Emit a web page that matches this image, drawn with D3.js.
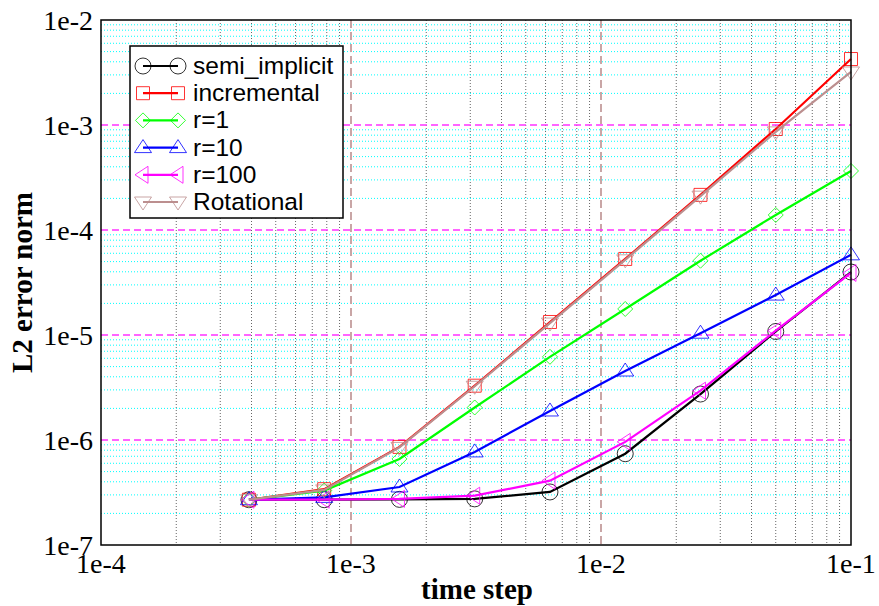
<!DOCTYPE html>
<html>
<head>
<meta charset="utf-8">
<script src="https://cdn.jsdelivr.net/npm/d3@7"></script>
<style>
  html, body { margin: 0; padding: 0; background: #fff; }
  svg { display: block; }
</style>
</head>
<body>
<svg id="chart" width="879" height="606"></svg>
<script>
// ---- data ----
const timeSteps = [0.000390625, 0.00078125, 0.0015625, 0.003125, 0.00625, 0.0125, 0.025, 0.05, 0.1];
const semiImplicit = [2.7e-7, 2.7e-7, 2.72e-7, 2.75e-7, 3.2e-7, 7.4e-7, 2.74e-6, 1.08e-5, 3.98e-5];
const incremental  = [2.7e-7, 3.4e-7, 8.6e-7, 3.29e-6, 1.33e-5, 5.3e-5, 2.16e-4, 9.16e-4, 4.25e-3];
const r1           = [2.7e-7, 3.3e-7, 6.6e-7, 2.04e-6, 6.2e-6, 1.77e-5, 5.1e-5, 1.39e-4, 3.65e-4];
const r10          = [2.7e-7, 2.84e-7, 3.57e-7, 7.7e-7, 1.89e-6, 4.54e-6, 1.04e-5, 2.4e-5, 5.8e-5];
const r100         = [2.7e-7, 2.7e-7, 2.75e-7, 2.95e-7, 4.1e-7, 9.6e-7, 2.95e-6, 1.1e-5, 3.9e-5];
const rotational   = [2.7e-7, 3.35e-7, 8.5e-7, 3.25e-6, 1.3e-5, 5.2e-5, 2.1e-4, 8.6e-4, 3.2e-3];
const seriesNames  = ["semi_implicit", "incremental", "r=1", "r=10", "r=100", "Rotational"];
const xTickLabels  = ["1e-4", "1e-3", "1e-2", "1e-1"];
const yTickLabels  = ["1e-7", "1e-6", "1e-5", "1e-4", "1e-3", "1e-2"];
const xLabel = "time step";
const yLabel = "L2 error norm";

const seriesData = [semiImplicit, incremental, r1, r10, r100, rotational];
const colors = ["#000000", "#ff0000", "#00ff00", "#0000ff", "#ff00ff", "#bc8f8f"];
const markers = ["circle", "square", "diamond", "triUp", "triLeft", "triDown"];

// ---- layout ----
const svg = d3.select("#chart");
const L = 101, R = 851, T = 20, B = 545;
const x = d3.scaleLog().domain([1e-4, 1e-1]).range([L, R]);
const y = d3.scaleLog().domain([1e-7, 1e-2]).range([B, T]);

const g = svg.append("g");

// minor grid
const minorX = [], minorY = [];
[1e-4, 1e-3, 1e-2].forEach(d => { for (let k = 2; k <= 9; k++) minorX.push(d * k); });
[1e-7, 1e-6, 1e-5, 1e-4, 1e-3].forEach(d => { for (let k = 2; k <= 9; k++) minorY.push(d * k); });

g.selectAll(".mx").data(minorX).join("line")
  .attr("x1", d => x(d)).attr("x2", d => x(d)).attr("y1", T).attr("y2", B)
  .attr("stroke", "#666").attr("stroke-width", 1).attr("stroke-dasharray", "1,2");
g.selectAll(".my").data(minorY).join("line")
  .attr("x1", L).attr("x2", R).attr("y1", d => y(d)).attr("y2", d => y(d))
  .attr("stroke", "#00ffff").attr("stroke-width", 1).attr("stroke-dasharray", "1,2");

// major grid
const majorX = [1e-3, 1e-2];
const majorY = [1e-6, 1e-5, 1e-4, 1e-3];
g.selectAll(".Mx").data(majorX).join("line")
  .attr("x1", d => x(d)).attr("x2", d => x(d)).attr("y1", T).attr("y2", B)
  .attr("stroke", "#c9a6a6").attr("stroke-width", 2).attr("stroke-dasharray", "8,4");
g.selectAll(".My").data(majorY).join("line")
  .attr("x1", L).attr("x2", R).attr("y1", d => y(d)).attr("y2", d => y(d))
  .attr("stroke", "#ff33ff").attr("stroke-width", 1.6).attr("stroke-dasharray", "7,4");

// marker path generator
function markerPath(type, cx, cy) {
  switch (type) {
    case "circle": {
      const r = 8;
      return `M${cx - r},${cy}a${r},${r} 0 1,0 ${2 * r},0a${r},${r} 0 1,0 ${-2 * r},0Z`;
    }
    case "square": {
      const s = 6.5;
      return `M${cx - s},${cy - s}H${cx + s}V${cy + s}H${cx - s}Z`;
    }
    case "diamond": {
      const s = 7.5;
      return `M${cx},${cy - s}L${cx + s},${cy}L${cx},${cy + s}L${cx - s},${cy}Z`;
    }
    case "triUp": {
      return `M${cx},${cy - 8}L${cx + 8.5},${cy + 5}L${cx - 8.5},${cy + 5}Z`;
    }
    case "triDown": {
      return `M${cx},${cy + 8}L${cx + 8.5},${cy - 5}L${cx - 8.5},${cy - 5}Z`;
    }
    case "triLeft": {
      return `M${cx - 8},${cy}L${cx + 5},${cy - 8.5}L${cx + 5},${cy + 8.5}Z`;
    }
  }
}

// series
const line = d3.line().x(d => x(d[0])).y(d => y(d[1]));
seriesData.forEach((vals, i) => {
  const pts = timeSteps.map((t, j) => [t, vals[j]]);
  const sg = g.append("g");
  sg.append("path").datum(pts).attr("d", line)
    .attr("fill", "none").attr("stroke", colors[i]).attr("stroke-width", 2.2);
  sg.selectAll("path.m").data(pts).join("path").attr("class", "m")
    .attr("d", d => markerPath(markers[i], x(d[0]), y(d[1])))
    .attr("fill", "none").attr("stroke", colors[i]).attr("stroke-width", 1).attr("stroke-opacity", 0.8);
});

// frame
g.append("rect").attr("x", L).attr("y", T).attr("width", R - L).attr("height", B - T)
  .attr("fill", "none").attr("stroke", "#000").attr("stroke-width", 1.5);

// axes tick labels
const xTickVals = [1e-4, 1e-3, 1e-2, 1e-1];
const yTickVals = [1e-7, 1e-6, 1e-5, 1e-4, 1e-3, 1e-2];
g.selectAll(".xt").data(xTickVals).join("text")
  .attr("x", d => x(d)).attr("y", 573)
  .attr("text-anchor", "middle")
  .attr("font-family", "'Liberation Serif', 'Times New Roman', serif").attr("font-size", 28)
  .text((d, i) => xTickLabels[i]);
g.selectAll(".yt").data(yTickVals).join("text")
  .attr("x", 93).attr("y", d => y(d) + 9.5)
  .attr("text-anchor", "end")
  .attr("font-family", "'Liberation Serif', 'Times New Roman', serif").attr("font-size", 28)
  .text((d, i) => yTickLabels[i]);

// axis labels
g.append("text").attr("x", (L + R) / 2 + 1).attr("y", 599).attr("text-anchor", "middle")
  .attr("font-family", "'Liberation Serif', 'Times New Roman', serif").attr("font-weight", "bold").attr("font-size", 29)
  .text(xLabel);
g.append("text").attr("transform", `translate(32,${(T + B) / 2}) rotate(-90)`).attr("text-anchor", "middle")
  .attr("font-family", "'Liberation Serif', 'Times New Roman', serif").attr("font-weight", "bold").attr("font-size", 29)
  .text(yLabel);

// legend
const lg = g.append("g");
lg.append("rect").attr("x", 130).attr("y", 46).attr("width", 213).attr("height", 172)
  .attr("fill", "#fff").attr("stroke", "#000").attr("stroke-width", 1.5);
const legY = d3.scaleLinear().domain([0, 5]).range([66, 202]);
seriesNames.forEach((name, i) => {
  const yy = legY(i);
  lg.append("line").attr("x1", 143).attr("x2", 178).attr("y1", yy).attr("y2", yy)
    .attr("stroke", colors[i]).attr("stroke-width", 2.2);
  [143, 178].forEach(xx => {
    lg.append("path").attr("d", markerPath(markers[i], xx, yy))
      .attr("fill", "none").attr("stroke", colors[i]).attr("stroke-width", 1).attr("stroke-opacity", 0.8);
  });
  lg.append("text").attr("x", 193).attr("y", yy + 8)
    .attr("font-family", "'Liberation Sans', Arial, sans-serif").attr("font-size", 24.5)
    .text(name);
});
</script>
</body>
</html>
